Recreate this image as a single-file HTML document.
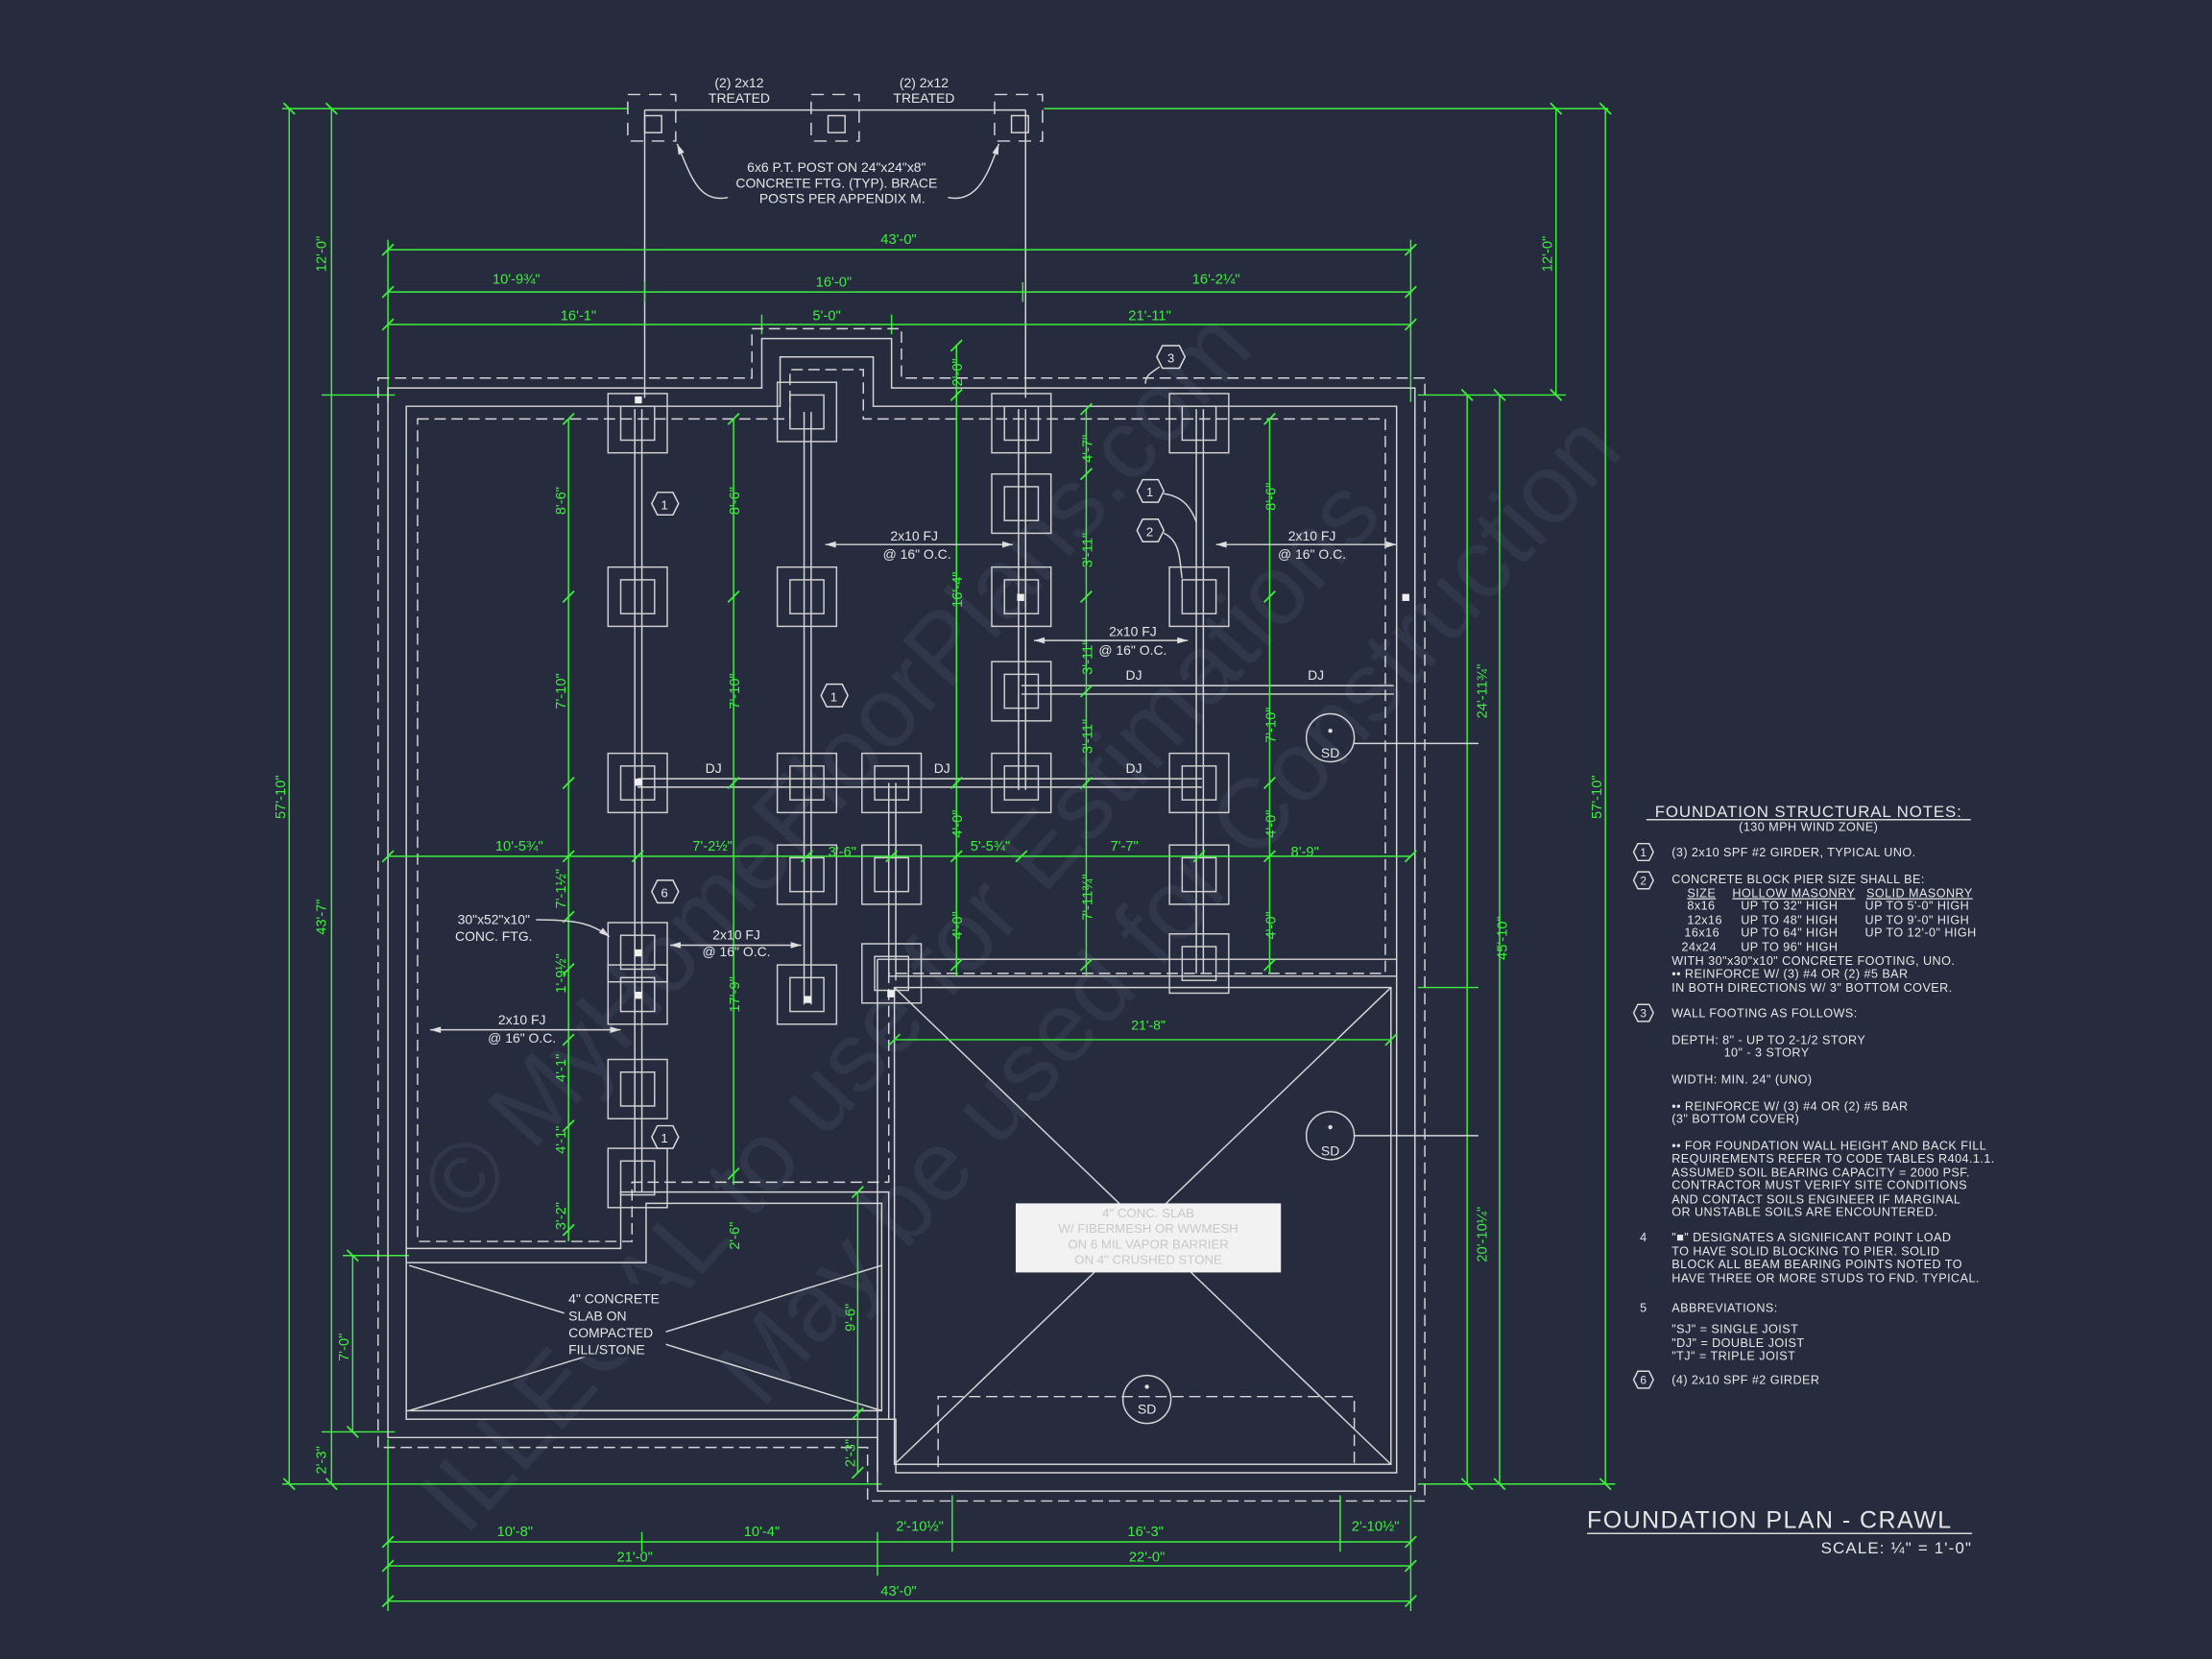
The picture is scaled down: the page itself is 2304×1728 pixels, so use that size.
<!DOCTYPE html>
<html><head><meta charset="utf-8"><style>
html,body{margin:0;padding:0;background:#262b3e;}
svg{display:block;}
text{font-family:"Liberation Sans",sans-serif;}
.g{stroke:#3ef03e;stroke-width:1;fill:none}
.gt{fill:#3ef03e;font-size:10px;}
.w{stroke:#d6d6d6;stroke-width:1;fill:none}
.wd{stroke:#d6d6d6;stroke-width:1;fill:none;stroke-dasharray:8 4}
.wt{fill:#e6e6e6;font-size:9.5px;}
.nt{fill:#e6e6e6;font-size:8.6px;letter-spacing:0.3px}
</style></head><body>
<svg width="2304" height="1728" viewBox="0 0 1568 1176" xmlns="http://www.w3.org/2000/svg">
<defs>
<marker id="tk" viewBox="-5 -5 10 10" markerWidth="10" markerHeight="10" refX="0" refY="0" orient="auto" markerUnits="userSpaceOnUse">
<path d="M-4 4 L4 -4" stroke="#3ef03e" stroke-width="1.2"/></marker>
<g id="pier"><rect x="-21" y="-21" width="42" height="42" fill="none" stroke="#d0d0d0"/><rect x="-12" y="-12" width="24" height="24" fill="none" stroke="#d0d0d0"/></g>
<g id="post"><rect x="-17" y="-16" width="34" height="33" fill="none" stroke="#d6d6d6" stroke-dasharray="9 6"/><rect x="-5" y="-1" width="12" height="12" fill="none" stroke="#d6d6d6"/></g>
<marker id="ar" viewBox="0 -4 10 8" markerWidth="8" markerHeight="6" refX="10" refY="0" orient="auto-start-reverse" markerUnits="userSpaceOnUse"><path d="M0 -3 L10 0 L0 3z" fill="#ddd"/></marker>
</defs>
<rect width="1568" height="1176" fill="#262b3e"/>

<!-- watermark -->
<g fill="#31374b" font-family="Liberation Serif,serif" font-size="70">
<text transform="translate(330,870) rotate(-48)">© MyHomeFloorPlans.com</text>
<text transform="translate(540,1000) rotate(-48)">May be used for Construction</text>
<text transform="translate(330,1090) rotate(-48)">ILLEGAL to use for Estimations</text>
</g>

<!-- top posts -->
<line class="g" x1="200" y1="77" x2="445" y2="77"/>
<line class="g" x1="740" y1="77" x2="1140" y2="77"/>
<line class="w" x1="457" y1="78" x2="727" y2="78"/>
<line class="w" x1="457" y1="78" x2="457" y2="282"/>
<line class="w" x1="727" y1="78" x2="727" y2="282"/>
<use href="#post" x="462" y="83"/><use href="#post" x="592" y="83"/><use href="#post" x="722" y="83"/>
<text class="wt" x="524" y="62" text-anchor="middle">(2) 2x12</text>
<text class="wt" x="524" y="73" text-anchor="middle">TREATED</text>
<text class="wt" x="655" y="62" text-anchor="middle">(2) 2x12</text>
<text class="wt" x="655" y="73" text-anchor="middle">TREATED</text>
<text class="wt" x="593" y="122" text-anchor="middle">6x6 P.T. POST ON 24"x24"x8"</text>
<text class="wt" x="593" y="133" text-anchor="middle">CONCRETE FTG. (TYP). BRACE</text>
<text class="wt" x="597" y="144" text-anchor="middle">POSTS PER APPENDIX M.</text>
<path class="w" d="M516 140 C495 144 490 125 480 102" marker-end="url(#ar)"/>
<path class="w" d="M672 140 C692 144 700 125 708 102" marker-end="url(#ar)"/>

<!-- top dims -->
<line class="g" x1="275" y1="177" x2="1000" y2="177" marker-start="url(#tk)" marker-end="url(#tk)"/>
<text class="gt" x="637" y="173" text-anchor="middle">43'-0"</text>
<line class="g" x1="275" y1="207" x2="1000" y2="207" marker-start="url(#tk)" marker-end="url(#tk)"/>
<line class="g" x1="457" y1="200" x2="457" y2="214" /><line class="g" x1="725" y1="200" x2="725" y2="214"/>
<text class="gt" x="366" y="201" text-anchor="middle">10'-9¾"</text>
<text class="gt" x="591" y="203" text-anchor="middle">16'-0"</text>
<text class="gt" x="862" y="201" text-anchor="middle">16'-2¼"</text>
<line class="g" x1="275" y1="230" x2="1000" y2="230" marker-start="url(#tk)" marker-end="url(#tk)"/>
<line class="g" x1="540" y1="223" x2="540" y2="237"/><line class="g" x1="632" y1="223" x2="632" y2="237"/>
<text class="gt" x="410" y="227" text-anchor="middle">16'-1"</text>
<text class="gt" x="586" y="227" text-anchor="middle">5'-0"</text>
<text class="gt" x="815" y="227" text-anchor="middle">21'-11"</text>
<g class="g"><line x1="275" y1="170" x2="275" y2="285"/><line x1="1000" y1="170" x2="1000" y2="285"/></g>

<!-- left/right dims -->
<line class="g" x1="205" y1="77" x2="205" y2="1052" marker-start="url(#tk)" marker-end="url(#tk)"/>
<text class="gt" transform="translate(202,565) rotate(-90)" text-anchor="middle">57'-10"</text>
<line class="g" x1="235" y1="77" x2="235" y2="1052" marker-start="url(#tk)" marker-end="url(#tk)"/>
<line class="g" x1="228" y1="280" x2="280" y2="280"/><line class="g" x1="228" y1="1015" x2="280" y2="1015"/>
<text class="gt" transform="translate(231,180) rotate(-90)" text-anchor="middle">12'-0"</text>
<text class="gt" transform="translate(231,650) rotate(-90)" text-anchor="middle">43'-7"</text>
<text class="gt" transform="translate(231,1035) rotate(-90)" text-anchor="middle">2'-3"</text>
<line class="g" x1="200" y1="1052" x2="625" y2="1052"/>
<line class="g" x1="250" y1="890" x2="250" y2="1015" marker-start="url(#tk)" marker-end="url(#tk)"/>
<text class="gt" transform="translate(247,955) rotate(-90)" text-anchor="middle">7'-0"</text>
<line class="g" x1="243" y1="890" x2="290" y2="890"/>

<line class="g" x1="1138" y1="77" x2="1138" y2="1052" marker-start="url(#tk)" marker-end="url(#tk)"/>
<text class="gt" transform="translate(1135,565) rotate(-90)" text-anchor="middle">57'-10"</text>
<line class="g" x1="1103" y1="77" x2="1103" y2="280" marker-start="url(#tk)" marker-end="url(#tk)"/>
<text class="gt" transform="translate(1100,180) rotate(-90)" text-anchor="middle">12'-0"</text>
<line class="g" x1="1005" y1="280" x2="1110" y2="280"/>
<line class="g" x1="1005" y1="1052" x2="1145" y2="1052"/>
<line class="g" x1="1063" y1="280" x2="1063" y2="1052" marker-start="url(#tk)" marker-end="url(#tk)"/>
<text class="gt" transform="translate(1068,665) rotate(-90)" text-anchor="middle">45'-10"</text>
<line class="g" x1="1040" y1="280" x2="1040" y2="1052" marker-start="url(#tk)" marker-end="url(#tk)"/>
<line class="g" x1="1005" y1="700" x2="1048" y2="700"/>
<text class="gt" transform="translate(1054,490) rotate(-90)" text-anchor="middle">24'-11¾"</text>
<text class="gt" transform="translate(1054,875) rotate(-90)" text-anchor="middle">20'-10¼"</text>

<!-- bottom dims -->
<line class="g" x1="275" y1="1093" x2="1000" y2="1093" marker-start="url(#tk)" marker-end="url(#tk)"/>
<g class="g"><line x1="455" y1="1086" x2="455" y2="1100"/><line x1="622" y1="1086" x2="622" y2="1117"/><line x1="675" y1="1060" x2="675" y2="1100"/><line x1="950" y1="1060" x2="950" y2="1100"/>
<line x1="275" y1="1020" x2="275" y2="1142"/><line x1="1000" y1="1060" x2="1000" y2="1142"/></g>
<text class="gt" x="365" y="1089" text-anchor="middle">10'-8"</text>
<text class="gt" x="540" y="1089" text-anchor="middle">10'-4"</text>
<text class="gt" x="652" y="1085" text-anchor="middle">2'-10½"</text>
<text class="gt" x="812" y="1089" text-anchor="middle">16'-3"</text>
<text class="gt" x="975" y="1085" text-anchor="middle">2'-10½"</text>
<line class="g" x1="275" y1="1110" x2="1000" y2="1110" marker-start="url(#tk)" marker-end="url(#tk)"/>
<text class="gt" x="450" y="1107" text-anchor="middle">21'-0"</text>
<text class="gt" x="813" y="1107" text-anchor="middle">22'-0"</text>
<line class="g" x1="275" y1="1135" x2="1000" y2="1135" marker-start="url(#tk)" marker-end="url(#tk)"/>
<text class="gt" x="637" y="1131" text-anchor="middle">43'-0"</text>

<!-- walls -->
<path class="w" d="M275 275 H540 V240 H632 V275 H1003 V1057 H622 V1019 H275 Z"/>
<path class="w" d="M288 288 H553 V253 H619 V288 H990 V1044 H635 V1006 H288 Z"/>
<path class="wd" d="M268 268 H533 V233 H639 V268 H1010 V1064 H615 V1026 H268 Z" stroke-width="0.8"/>
<path class="wd" d="M296 297 H560 V262 H612 V297 H982 V690 H630 V838 H448 V880 H296 Z"/>
<path class="w" d="M288 885 H440 V845 H630 V1006"/>
<path class="w" d="M288 895 H458 V853 H625 V1000 H288"/>
<path class="w" d="M622 680 H990"/><path class="w" d="M630 692 H990"/>
<path class="w" d="M622 680 V1044"/>
<!-- garage -->
<rect class="w" x="634" y="700" width="352" height="338"/>
<path class="w" d="M634 700 L986 1038 M986 700 L634 1038"/>
<path class="wd" d="M665 1040 V990 H960 V1040"/>
<rect x="720" y="853" width="188" height="49" fill="#f2f2f2"/>
<text x="814" y="863" fill="#c8c8c8" font-size="9" text-anchor="middle">4" CONC. SLAB</text>
<text x="814" y="874" fill="#c8c8c8" font-size="9" text-anchor="middle">W/ FIBERMESH OR WWMESH</text>
<text x="814" y="885" fill="#c8c8c8" font-size="9" text-anchor="middle">ON 6 MIL VAPOR BARRIER</text>
<text x="814" y="896" fill="#c8c8c8" font-size="9" text-anchor="middle">ON 4" CRUSHED STONE</text>
<text class="wt" x="814" y="730" style="fill:#3ef03e" text-anchor="middle">21'-8"</text>
<line class="g" x1="634" y1="737" x2="986" y2="737" marker-start="url(#tk)" marker-end="url(#tk)"/>
<!-- slab -->
<path class="w" d="M290 897 L625 1000 M290 1000 L625 897"/>
<rect x="400" y="910" width="72" height="52" fill="#262b3e"/>
<text class="wt" x="403" y="924">4" CONCRETE</text>
<text class="wt" x="403" y="936">SLAB ON</text>
<text class="wt" x="403" y="948">COMPACTED</text>
<text class="wt" x="403" y="960">FILL/STONE</text>

<!-- SD -->
<g class="w"><circle cx="943" cy="523" r="17"/><circle cx="943" cy="805" r="17"/><circle cx="813" cy="992" r="17"/>
<line x1="960" y1="527" x2="1048" y2="527"/><line x1="960" y1="805" x2="1048" y2="805"/></g>
<text class="wt" x="943" y="537" text-anchor="middle">SD</text><text class="wt" x="943" y="819" text-anchor="middle">SD</text><text class="wt" x="813" y="1002" text-anchor="middle">SD</text>
<g fill="#ddd"><circle cx="943" cy="518" r="1.5"/><circle cx="943" cy="799" r="1.5"/><circle cx="813" cy="983" r="1.5"/></g>

<!-- girders -->
<g stroke="#d6d6d6" stroke-width="1" fill="none">
<path d="M450 290 V845 M455 290 V845"/>
<path d="M570 292 V712 M575 292 V712"/>
<path d="M630 555 V695 M635 555 V695"/>
<path d="M722 290 V560 M727 290 V560"/>
<path d="M848 290 V690 M853 290 V690"/>
<path d="M452 552 H852 M452 558 H852"/>
<path d="M724 486 H988 M724 492 H988"/>
</g>
<!-- piers -->
<g>
<use href="#pier" x="452" y="300"/><use href="#pier" x="452" y="423"/><use href="#pier" x="452" y="555"/><use href="#pier" x="452" y="675"/><use href="#pier" x="452" y="705"/><use href="#pier" x="452" y="772"/><use href="#pier" x="452" y="835"/>
<use href="#pier" x="572" y="292"/><use href="#pier" x="572" y="423"/><use href="#pier" x="572" y="555"/><use href="#pier" x="572" y="620"/><use href="#pier" x="572" y="705"/>
<use href="#pier" x="632" y="555"/><use href="#pier" x="632" y="620"/><use href="#pier" x="632" y="690"/>
<use href="#pier" x="724" y="300"/><use href="#pier" x="724" y="357"/><use href="#pier" x="724" y="423"/><use href="#pier" x="724" y="490"/><use href="#pier" x="724" y="555"/>
<use href="#pier" x="850" y="300"/><use href="#pier" x="850" y="423"/><use href="#pier" x="850" y="555"/><use href="#pier" x="850" y="620"/><use href="#pier" x="850" y="683"/>
</g>
<g fill="#eee"><rect x="450" y="281" width="5" height="5"/><rect x="450" y="552" width="5" height="5"/><rect x="450" y="673" width="5" height="5"/><rect x="450" y="703" width="5" height="5"/><rect x="721" y="421" width="5" height="5"/><rect x="994" y="421" width="5" height="5"/><rect x="570" y="706" width="5" height="5"/><rect x="629" y="702" width="5" height="5"/></g>
<text class="wt" x="500" y="548">DJ</text><text class="wt" x="662" y="548">DJ</text><text class="wt" x="798" y="548">DJ</text>
<text class="wt" x="798" y="482">DJ</text><text class="wt" x="927" y="482">DJ</text>

<!-- hex tags -->
<g stroke="#ddd" fill="#262b3e">
<polygon points="462,357 466,349 477,349 481,357 477,365 466,365"/>
<polygon points="582,493 586,485 597,485 601,493 597,501 586,501"/>
<polygon points="806,348 810,340 821,340 825,348 821,356 810,356"/>
<polygon points="806,376 810,368 821,368 825,376 821,384 810,384"/>
<polygon points="820,253 824,245 836,245 840,253 836,261 824,261"/>
<polygon points="462,632 466,624 477,624 481,632 477,640 466,640"/>
<polygon points="462,806 466,798 477,798 481,806 477,814 466,814"/>
</g>
<g class="wt" text-anchor="middle" style="font-size:9px"><text x="471" y="361">1</text><text x="591" y="497">1</text><text x="815" y="352">1</text><text x="815" y="380">2</text><text x="830" y="257">3</text><text x="471" y="636">6</text><text x="471" y="810">1</text></g>
<path class="w" d="M825 350 C840 352 845 362 848 370"/><path class="w" d="M825 378 C838 384 836 400 838 410"/>
<path class="w" d="M822 260 C815 265 812 266 812 272"/>

<!-- interior green dims -->
<g class="g">
<line x1="275" y1="607" x2="1000" y2="607" marker-start="url(#tk)" marker-end="url(#tk)"/>
<line x1="403" y1="297" x2="403" y2="880"/>
<line x1="520" y1="297" x2="520" y2="840"/>
<line x1="608" y1="845" x2="608" y2="1044"/>
<line x1="678" y1="245" x2="678" y2="692"/>
<line x1="770" y1="290" x2="770" y2="692"/>
<line x1="900" y1="297" x2="900" y2="690"/>
</g>
<g stroke="#3ef03e" stroke-width="1.2">
<path d="M399 427 l8 -8 M399 559 l8 -8 M399 611 l8 -8 M399 654 l8 -8 M399 691 l8 -8 M399 741 l8 -8 M399 802 l8 -8 M399 876 l8 -8 M399 301 l8 -8
M516 301 l8 -8 M516 427 l8 -8 M516 559 l8 -8 M516 836 l8 -8
M674 249 l8 -8 M674 284 l8 -8 M674 559 l8 -8 M674 611 l8 -8 M674 688 l8 -8
M766 294 l8 -8 M766 340 l8 -8 M766 427 l8 -8 M766 494 l8 -8 M766 559 l8 -8 M766 688 l8 -8
M896 301 l8 -8 M896 427 l8 -8 M896 559 l8 -8 M896 611 l8 -8 M896 688 l8 -8
M604 849 l8 -8 M604 1006 l8 -8 M604 1048 l8 -8
M448 611 l8 -8 M568 611 l8 -8 M628 611 l8 -8 M720 611 l8 -8 M846 611 l8 -8"/>
</g>
<g class="gt" font-size="9.5">
<text transform="translate(401,355) rotate(-90)" text-anchor="middle">8'-6"</text>
<text transform="translate(401,490) rotate(-90)" text-anchor="middle">7'-10"</text>
<text transform="translate(401,630) rotate(-90)" text-anchor="middle">7'-1½"</text>
<text transform="translate(401,690) rotate(-90)" text-anchor="middle">1'-9½"</text>
<text transform="translate(401,757) rotate(-90)" text-anchor="middle">4'-1"</text>
<text transform="translate(401,808) rotate(-90)" text-anchor="middle">4'-1"</text>
<text transform="translate(401,862) rotate(-90)" text-anchor="middle">3'-2"</text>
<text transform="translate(524,355) rotate(-90)" text-anchor="middle">8'-6"</text>
<text transform="translate(524,490) rotate(-90)" text-anchor="middle">7'-10"</text>
<text transform="translate(524,705) rotate(-90)" text-anchor="middle">17'-9"</text>
<text transform="translate(524,876) rotate(-90)" text-anchor="middle">2'-6"</text>
<text transform="translate(606,934) rotate(-90)" text-anchor="middle">9'-6"</text>
<text transform="translate(606,1030) rotate(-90)" text-anchor="middle">2'-3"</text>
<text transform="translate(682,264) rotate(-90)" text-anchor="middle">2'-0"</text>
<text transform="translate(682,418) rotate(-90)" text-anchor="middle">16'-4"</text>
<text transform="translate(682,584) rotate(-90)" text-anchor="middle">4'-0"</text>
<text transform="translate(682,656) rotate(-90)" text-anchor="middle">4'-0"</text>
<text transform="translate(774,318) rotate(-90)" text-anchor="middle">4'-7"</text>
<text transform="translate(774,390) rotate(-90)" text-anchor="middle">3'-11"</text>
<text transform="translate(774,466) rotate(-90)" text-anchor="middle">3'-11"</text>
<text transform="translate(774,522) rotate(-90)" text-anchor="middle">3'-11"</text>
<text transform="translate(774,636) rotate(-90)" text-anchor="middle">7'-11¾"</text>
<text transform="translate(904,352) rotate(-90)" text-anchor="middle">8'-6"</text>
<text transform="translate(904,514) rotate(-90)" text-anchor="middle">7'-10"</text>
<text transform="translate(904,584) rotate(-90)" text-anchor="middle">4'-0"</text>
<text transform="translate(904,656) rotate(-90)" text-anchor="middle">4'-0"</text>
<text x="368" y="603" text-anchor="middle">10'-5¾"</text>
<text x="505" y="603" text-anchor="middle">7'-2½"</text>
<text x="597" y="607" text-anchor="middle">3'-6"</text>
<text x="702" y="603" text-anchor="middle">5'-5¾"</text>
<text x="797" y="603" text-anchor="middle">7'-7"</text>
<text x="925" y="607" text-anchor="middle">8'-9"</text>
</g>

<!-- FJ labels -->
<g class="w"><line x1="585" y1="386" x2="718" y2="386" marker-start="url(#ar)" marker-end="url(#ar)"/>
<line x1="862" y1="386" x2="990" y2="386" marker-start="url(#ar)" marker-end="url(#ar)"/>
<line x1="733" y1="454" x2="842" y2="454" marker-start="url(#ar)" marker-end="url(#ar)"/>
<line x1="475" y1="670" x2="568" y2="670" marker-start="url(#ar)" marker-end="url(#ar)"/>
<line x1="305" y1="730" x2="440" y2="730" marker-start="url(#ar)" marker-end="url(#ar)"/></g>
<g class="wt" text-anchor="middle">
<text x="648" y="383">2x10 FJ</text><text x="650" y="396">@ 16" O.C.</text>
<text x="930" y="383">2x10 FJ</text><text x="930" y="396">@ 16" O.C.</text>
<text x="803" y="451">2x10 FJ</text><text x="803" y="464">@ 16" O.C.</text>
<text x="522" y="666">2x10 FJ</text><text x="522" y="678">@ 16" O.C.</text>
<text x="370" y="726">2x10 FJ</text><text x="370" y="739">@ 16" O.C.</text>
<text x="350" y="655">30"x52"x10"</text><text x="350" y="667">CONC. FTG.</text>
</g>
<path class="w" d="M380 652 C410 652 420 655 432 664" marker-end="url(#ar)"/>

<!-- title -->
<text x="1125" y="1083" fill="#e6e6e6" font-size="17" letter-spacing="1">FOUNDATION PLAN - CRAWL</text>
<line class="w" x1="1125" y1="1087" x2="1398" y2="1087"/>
<text x="1398" y="1101" fill="#e6e6e6" font-size="11.5" text-anchor="end" letter-spacing="0.8">SCALE: ¼" = 1'-0"</text>

<!-- notes -->
<text x="1282" y="579" fill="#e6e6e6" font-size="11.5" text-anchor="middle" letter-spacing="0.6">FOUNDATION STRUCTURAL NOTES:</text>
<line class="w" x1="1167" y1="581" x2="1397" y2="581"/>
<text class="nt" x="1282" y="589" text-anchor="middle">(130 MPH WIND ZONE)</text>
<g stroke="#ddd" fill="none">
<polygon points="1158,604 1161,598 1169,598 1172,604 1169,610 1161,610"/>
<polygon points="1158,624 1161,618 1169,618 1172,624 1169,630 1161,630"/>
<polygon points="1158,718 1161,712 1169,712 1172,718 1169,724 1161,724"/>
<polygon points="1158,978 1161,972 1169,972 1172,978 1169,984 1161,984"/>
</g>
<g class="nt">
<text x="1165" y="607" text-anchor="middle" font-size="8">1</text>
<text x="1165" y="627" text-anchor="middle" font-size="8">2</text>
<text x="1165" y="721" text-anchor="middle" font-size="8">3</text>
<text x="1165" y="981" text-anchor="middle" font-size="8">6</text>
<text x="1165" y="880" text-anchor="middle">4</text>
<text x="1165" y="930" text-anchor="middle">5</text>
<text x="1185" y="607">(3) 2x10 SPF #2 GIRDER, TYPICAL UNO.</text>
<text x="1185" y="626">CONCRETE BLOCK PIER SIZE SHALL BE:</text>
<text x="1196" y="636" text-decoration="underline">SIZE</text><text x="1228" y="636" text-decoration="underline">HOLLOW MASONRY</text><text x="1323" y="636" text-decoration="underline">SOLID MASONRY</text>
<text x="1196" y="645">8x16</text><text x="1234" y="645">UP TO 32" HIGH</text><text x="1322" y="645">UP TO 5'-0" HIGH</text>
<text x="1196" y="655">12x16</text><text x="1234" y="655">UP TO 48" HIGH</text><text x="1322" y="655">UP TO 9'-0" HIGH</text>
<text x="1194" y="664">16x16</text><text x="1234" y="664">UP TO 64" HIGH</text><text x="1322" y="664">UP TO 12'-0" HIGH</text>
<text x="1192" y="674">24x24</text><text x="1234" y="674">UP TO 96" HIGH</text>
<text x="1185" y="684">WITH 30"x30"x10" CONCRETE FOOTING, UNO.</text>
<text x="1185" y="693">•• REINFORCE W/ (3) #4 OR (2) #5 BAR</text>
<text x="1185" y="703">IN BOTH DIRECTIONS W/ 3" BOTTOM COVER.</text>
<text x="1185" y="721">WALL FOOTING AS FOLLOWS:</text>
<text x="1185" y="740">DEPTH: 8" - UP TO 2-1/2 STORY</text>
<text x="1222" y="749">10" - 3 STORY</text>
<text x="1185" y="768">WIDTH:  MIN. 24" (UNO)</text>
<text x="1185" y="787">•• REINFORCE W/ (3) #4 OR (2) #5 BAR</text>
<text x="1185" y="796">(3" BOTTOM COVER)</text>
<text x="1185" y="815">•• FOR FOUNDATION WALL HEIGHT AND BACK FILL</text>
<text x="1185" y="824">REQUIREMENTS REFER TO CODE TABLES R404.1.1.</text>
<text x="1185" y="834">ASSUMED SOIL BEARING CAPACITY = 2000 PSF.</text>
<text x="1185" y="843">CONTRACTOR MUST VERIFY SITE CONDITIONS</text>
<text x="1185" y="853">AND CONTACT SOILS ENGINEER IF MARGINAL</text>
<text x="1185" y="862">OR UNSTABLE SOILS ARE ENCOUNTERED.</text>
<text x="1185" y="880">"■" DESIGNATES A SIGNIFICANT POINT LOAD</text>
<text x="1185" y="890">TO HAVE SOLID BLOCKING TO PIER.  SOLID</text>
<text x="1185" y="899">BLOCK ALL BEAM BEARING POINTS NOTED TO</text>
<text x="1185" y="909">HAVE THREE OR MORE STUDS TO FND. TYPICAL.</text>
<text x="1185" y="930">ABBREVIATIONS:</text>
<text x="1185" y="945">"SJ" = SINGLE JOIST</text>
<text x="1185" y="955">"DJ" = DOUBLE JOIST</text>
<text x="1185" y="964">"TJ" = TRIPLE JOIST</text>
<text x="1185" y="981">(4) 2x10 SPF #2 GIRDER</text>
</g>
</svg>
</body></html>
